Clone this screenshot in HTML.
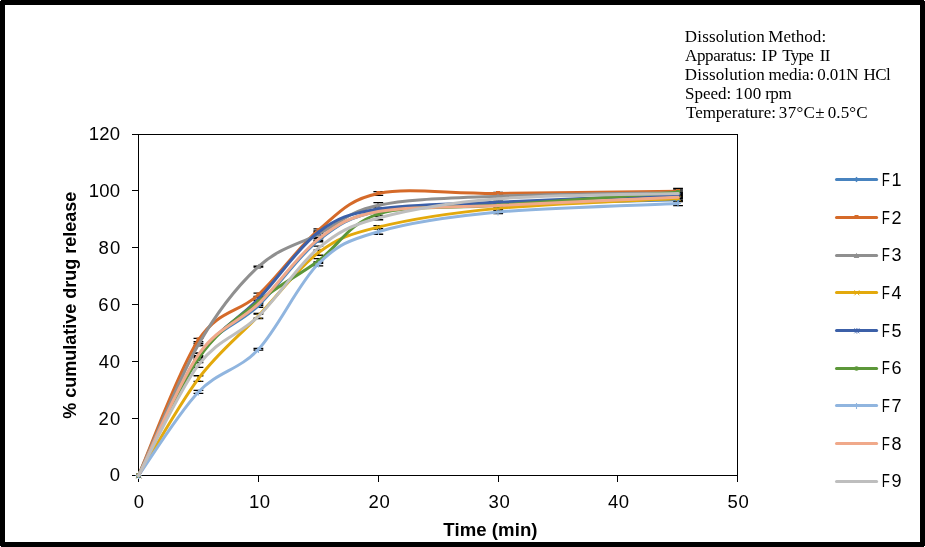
<!DOCTYPE html>
<html lang="en"><head><meta charset="utf-8"><title>Dissolution profile</title>
<style>
html,body{margin:0;padding:0;background:#fff;}
body{width:925px;height:547px;overflow:hidden;}
svg{display:block;}
.ax{font-family:"Liberation Sans",sans-serif;font-size:18.5px;fill:#000;}
.lg{font-family:"Liberation Sans",sans-serif;font-size:18px;fill:#000;}
.tt{font-family:"Liberation Sans",sans-serif;font-weight:bold;font-size:18.6px;fill:#000;}
.nt{font-family:"Liberation Serif",serif;font-size:17px;fill:#000;}
</style></head><body>
<svg width="925" height="547" viewBox="0 0 925 547">
<rect x="0" y="0" width="925" height="547" fill="#000"/>
<rect x="5" y="5" width="915" height="537" fill="#fff"/>
<path d="M0 0h1v1h-1zM924 0h1v1h-1zM0 546h1v1h-1zM924 546h1v1h-1z" fill="#fff" shape-rendering="crispEdges"/>
<g stroke="#000" stroke-width="1" fill="none" shape-rendering="crispEdges">
<rect x="138.5" y="134.5" width="599" height="341"/>
<line x1="132" x2="138.5" y1="475.5" y2="475.5"/>
<line x1="132" x2="138.5" y1="418.5" y2="418.5"/>
<line x1="132" x2="138.5" y1="361.5" y2="361.5"/>
<line x1="132" x2="138.5" y1="304.5" y2="304.5"/>
<line x1="132" x2="138.5" y1="247.5" y2="247.5"/>
<line x1="132" x2="138.5" y1="190.5" y2="190.5"/>
<line x1="132" x2="138.5" y1="134.5" y2="134.5"/>
<line x1="138.5" x2="138.5" y1="475.5" y2="482"/>
<line x1="258.5" x2="258.5" y1="475.5" y2="482"/>
<line x1="378.5" x2="378.5" y1="475.5" y2="482"/>
<line x1="498.5" x2="498.5" y1="475.5" y2="482"/>
<line x1="617.5" x2="617.5" y1="475.5" y2="482"/>
<line x1="737.5" x2="737.5" y1="475.5" y2="482"/>
</g>
<g class="ax">
<text x="109.63" y="480.85" style="letter-spacing:0px">0</text>
<text x="98.41" y="424.85" style="letter-spacing:1.21px">20</text>
<text x="98.7" y="367.85" style="letter-spacing:0.72px">40</text>
<text x="98.3" y="310.85" style="letter-spacing:1.32px">60</text>
<text x="98.5" y="253.85" style="letter-spacing:1.12px">80</text>
<text x="88.78" y="196.85" style="letter-spacing:0.18px">100</text>
<text x="88.78" y="139.85" style="letter-spacing:0.18px">120</text>
<text x="133.63" y="507.85" style="letter-spacing:0px">0</text>
<text x="248.9" y="507.85" style="letter-spacing:0.59px">10</text>
<text x="368.43" y="507.85" style="letter-spacing:0.9px">20</text>
<text x="488.47" y="507.85" style="letter-spacing:0.86px">30</text>
<text x="607.9" y="507.85" style="letter-spacing:0.45px">40</text>
<text x="727.47" y="507.85" style="letter-spacing:0.86px">50</text>
</g>
<path d="M193.55 353.31H203.35M198.45 353.31V357.29M193.55 357.29H203.35M253.5 303.86H263.3M258.4 303.86V307.27M253.5 307.27H263.3M313.45 238.51H323.25M318.35 238.51V241.91M313.45 241.91H323.25M373.4 209.8H383.2M378.3 209.8V212.65M373.4 212.65H383.2M493.3 203.84H503.1M498.2 203.84V205.54M493.3 205.54H503.1M673.15 198.44H682.95M678.05 198.44V201.28M673.15 201.28H682.95M193.55 338.3H203.35M198.45 338.3V341.6M193.55 341.6H203.35M253.5 293.06H263.3M258.4 293.06V296.48M253.5 296.48H263.3M313.45 228.84H323.25M318.35 228.84V231.69M313.45 231.69H323.25M373.4 191.59H383.2M378.3 191.59V195.34M373.4 195.34H383.2M493.3 192.33H503.1M498.2 192.33V194.6M493.3 194.6H503.1M673.15 190.2H682.95M678.05 190.2V192.47M673.15 192.47H682.95M193.55 343.5H203.35M198.45 343.5V345.49M193.55 345.49H203.35M253.5 266.07H263.3M258.4 266.07V267.21M253.5 267.21H263.3M313.45 232.82H323.25M318.35 232.82V235.66M313.45 235.66H323.25M373.4 202.7H383.2M378.3 202.7V207.81M373.4 207.81H383.2M493.3 195.31H503.1M498.2 195.31V197.02M493.3 197.02H503.1M673.15 191.9H682.95M678.05 191.9V193.61M673.15 193.61H682.95M193.55 375.76H203.35M198.45 375.76V381.44M193.55 381.44H203.35M253.5 313.52H263.3M258.4 313.52V318.07M253.5 318.07H263.3M313.45 250.16H323.25M318.35 250.16V255.27M313.45 255.27H323.25M373.4 225.72H383.2M378.3 225.72V228.56M373.4 228.56H383.2M493.3 207.1H503.1M498.2 207.1V209.66M493.3 209.66H503.1M673.15 197.16H682.95M678.05 197.16V200M673.15 200H682.95M193.55 355.58H203.35M198.45 355.58V358.99M193.55 358.99H203.35M253.5 297.61H263.3M258.4 297.61V300.45M253.5 300.45H263.3M313.45 230.83H323.25M318.35 230.83V233.67M313.45 233.67H323.25M373.4 207.67H383.2M378.3 207.67V210.51M373.4 210.51H383.2M493.3 201.28H503.1M498.2 201.28V202.98M493.3 202.98H503.1M673.15 193.89H682.95M678.05 193.89V196.16M673.15 196.16H682.95M193.55 356.72H203.35M198.45 356.72V360.13M193.55 360.13H203.35M253.5 300.17H263.3M258.4 300.17V303.01M253.5 303.01H263.3M313.45 258.68H323.25M318.35 258.68V263.23M313.45 263.23H323.25M373.4 212.65H383.2M378.3 212.65V215.49M373.4 215.49H383.2M493.3 204.41H503.1M498.2 204.41V206.11M493.3 206.11H503.1M673.15 188.49H682.95M678.05 188.49V195.88M673.15 195.88H682.95M193.55 390.45H203.35M198.45 390.45V393.46M193.55 393.46H203.35M253.5 348.48H263.3M258.4 348.48V350.18M253.5 350.18H263.3M313.45 261.81H323.25M318.35 261.81V265.78M313.45 265.78H323.25M373.4 229.13H383.2M378.3 229.13V234.24M373.4 234.24H383.2M493.3 210.51H503.1M498.2 210.51V213.64M493.3 213.64H503.1M673.15 201.51H682.95M678.05 201.51V205.6M673.15 205.6H682.95M193.55 353.02H203.35M198.45 353.02V356.43M193.55 356.43H203.35M253.5 302.44H263.3M258.4 302.44V305.28M253.5 305.28H263.3M313.45 237.65H323.25M318.35 237.65V240.49M313.45 240.49H323.25M373.4 210.09H383.2M378.3 210.09V212.93M373.4 212.93H383.2M493.3 204.69H503.1M498.2 204.69V206.39M493.3 206.39H503.1M673.15 196.16H682.95M678.05 196.16V198.44M673.15 198.44H682.95M193.55 362.52H203.35M198.45 362.52V367.4M193.55 367.4H203.35M253.5 314.09H263.3M258.4 314.09V318.64M253.5 318.64H263.3M313.45 246.18H323.25M318.35 246.18V250.16M313.45 250.16H323.25M373.4 216.34H383.2M378.3 216.34V219.75M373.4 219.75H383.2M493.3 197.87H503.1M498.2 197.87V199.57M493.3 199.57H503.1M673.15 192.47H682.95M678.05 192.47V194.74M673.15 194.74H682.95" fill="none" stroke="#000" stroke-width="1.3"/>
<path d="M138.5 475.5C148.49 455.47 178.47 383.62 198.45 355.3C218.43 326.98 238.42 324.75 258.4 305.57C278.38 286.39 298.37 255.93 318.35 240.21C338.33 224.49 348.33 217.15 378.3 211.23C408.27 205.3 448.24 206.58 498.2 204.69C548.16 202.79 648.07 200.66 678.05 199.86" fill="none" stroke="#4883bf" stroke-width="3" stroke-linecap="round" stroke-linejoin="round"/>
<path d="M138.5 472.7l2.6 2.8l-2.6 2.8l-2.6 -2.8z" fill="#4883bf"/><path d="M198.5 352.7l2.6 2.8l-2.6 2.8l-2.6 -2.8z" fill="#4883bf"/><path d="M258.5 302.7l2.6 2.8l-2.6 2.8l-2.6 -2.8z" fill="#4883bf"/><path d="M318.5 237.2l2.6 2.8l-2.6 2.8l-2.6 -2.8z" fill="#4883bf"/><path d="M378.5 208.2l2.6 2.8l-2.6 2.8l-2.6 -2.8z" fill="#4883bf"/><path d="M498 201.7l2.6 2.8l-2.6 2.8l-2.6 -2.8z" fill="#4883bf"/><path d="M678 197.2l2.6 2.8l-2.6 2.8l-2.6 -2.8z" fill="#4883bf"/>
<path d="M138.5 475.5C148.49 452.91 178.47 370.07 198.45 339.95C218.43 309.83 238.42 313.05 258.4 294.77C278.38 276.49 298.37 247.15 318.35 230.26C338.33 213.38 348.33 199.6 378.3 193.46C408.27 187.33 448.24 193.82 498.2 193.46C548.16 193.11 648.07 191.69 678.05 191.33" fill="none" stroke="#d56a29" stroke-width="3" stroke-linecap="round" stroke-linejoin="round"/>
<rect x="136.5" y="473" width="4" height="4" fill="#d56a29"/><rect x="196.5" y="337.5" width="4" height="4" fill="#d56a29"/><rect x="256.5" y="292.5" width="4" height="4" fill="#d56a29"/><rect x="316.5" y="228" width="4" height="4" fill="#d56a29"/><rect x="376.5" y="191" width="4" height="4" fill="#d56a29"/><rect x="496" y="191" width="4" height="4" fill="#d56a29"/><rect x="676" y="189" width="4" height="4" fill="#d56a29"/>
<path d="M138.5 475.5C148.49 453.67 178.47 379.31 198.45 344.5C218.43 309.69 238.42 285.01 258.4 266.64C278.38 248.26 298.37 244.47 318.35 234.24C338.33 224.01 348.33 211.6 378.3 205.26C408.27 198.91 448.24 198.25 498.2 196.16C548.16 194.08 648.07 193.32 678.05 192.75" fill="none" stroke="#8f8f8f" stroke-width="3" stroke-linecap="round" stroke-linejoin="round"/>
<path d="M138.5 472.7l2.8 5.2h-5.6z" fill="#8f8f8f"/><path d="M198.5 341.7l2.8 5.2h-5.6z" fill="#8f8f8f"/><path d="M258.5 263.7l2.8 5.2h-5.6z" fill="#8f8f8f"/><path d="M318.5 231.2l2.8 5.2h-5.6z" fill="#8f8f8f"/><path d="M378.5 202.7l2.8 5.2h-5.6z" fill="#8f8f8f"/><path d="M498 193.2l2.8 5.2h-5.6z" fill="#8f8f8f"/><path d="M678 190.2l2.8 5.2h-5.6z" fill="#8f8f8f"/>
<path d="M138.5 475.5C148.49 459.35 178.47 405.22 198.45 378.6C218.43 351.98 238.42 336.78 258.4 315.8C278.38 294.82 298.37 267.49 318.35 252.71C338.33 237.94 348.33 234.53 378.3 227.14C408.27 219.75 448.24 213.14 498.2 208.38C548.16 203.62 648.07 200.21 678.05 198.58" fill="none" stroke="#e3a90c" stroke-width="3" stroke-linecap="round" stroke-linejoin="round"/>
<path d="M136.4 473.3l5 5m0 -5l-5 5" stroke="#e3a90c" stroke-width="1" fill="none"/><path d="M196.4 376.3l5 5m0 -5l-5 5" stroke="#e3a90c" stroke-width="1" fill="none"/><path d="M256.4 313.8l5 5m0 -5l-5 5" stroke="#e3a90c" stroke-width="1" fill="none"/><path d="M316.4 250.3l5 5m0 -5l-5 5" stroke="#e3a90c" stroke-width="1" fill="none"/><path d="M376.4 224.8l5 5m0 -5l-5 5" stroke="#e3a90c" stroke-width="1" fill="none"/><path d="M495.9 206.3l5 5m0 -5l-5 5" stroke="#e3a90c" stroke-width="1" fill="none"/><path d="M675.9 196.3l5 5m0 -5l-5 5" stroke="#e3a90c" stroke-width="1" fill="none"/>
<path d="M138.5 475.5C148.49 455.8 178.47 386.7 198.45 357.29C218.43 327.88 238.42 319.87 258.4 299.03C278.38 278.19 298.37 247.24 318.35 232.25C338.33 217.26 348.33 214.11 378.3 209.09C408.27 204.07 448.24 204.48 498.2 202.13C548.16 199.79 648.07 196.21 678.05 195.03" fill="none" stroke="#3c60a8" stroke-width="3" stroke-linecap="round" stroke-linejoin="round"/>
<path d="M136.4 473.3l5 5m0 -5l-5 5M138.9 473v5.6" stroke="#3c60a8" stroke-width="0.85" fill="none"/><path d="M196.4 355.3l5 5m0 -5l-5 5M198.9 355v5.6" stroke="#3c60a8" stroke-width="0.85" fill="none"/><path d="M256.4 296.8l5 5m0 -5l-5 5M258.9 296.5v5.6" stroke="#3c60a8" stroke-width="0.85" fill="none"/><path d="M316.4 230.3l5 5m0 -5l-5 5M318.9 230v5.6" stroke="#3c60a8" stroke-width="0.85" fill="none"/><path d="M376.4 206.8l5 5m0 -5l-5 5M378.9 206.5v5.6" stroke="#3c60a8" stroke-width="0.85" fill="none"/><path d="M495.9 199.8l5 5m0 -5l-5 5M498.4 199.5v5.6" stroke="#3c60a8" stroke-width="0.85" fill="none"/><path d="M675.9 192.8l5 5m0 -5l-5 5M678.4 192.5v5.6" stroke="#3c60a8" stroke-width="0.85" fill="none"/>
<path d="M138.5 475.5C148.49 455.99 178.47 387.41 198.45 358.42C218.43 329.44 238.42 317.83 258.4 301.59C278.38 285.35 298.37 275.54 318.35 260.95C338.33 246.37 348.33 223.35 378.3 214.07C408.27 204.78 448.24 208.9 498.2 205.26C548.16 201.61 648.07 194.36 678.05 192.19" fill="none" stroke="#5c9739" stroke-width="3" stroke-linecap="round" stroke-linejoin="round"/>
<circle cx="138.5" cy="475.5" r="2.3" fill="#5c9739"/><circle cx="198.5" cy="358.5" r="2.3" fill="#5c9739"/><circle cx="258.5" cy="301.5" r="2.3" fill="#5c9739"/><circle cx="318.5" cy="261" r="2.3" fill="#5c9739"/><circle cx="378.5" cy="214" r="2.3" fill="#5c9739"/><circle cx="498" cy="205.5" r="2.3" fill="#5c9739"/><circle cx="678" cy="192" r="2.3" fill="#5c9739"/>
<path d="M138.5 475.5C148.49 461.58 178.47 412.98 198.45 391.95C218.43 370.93 238.42 370.69 258.4 349.33C278.38 327.97 298.37 283.4 318.35 263.8C338.33 244.19 348.33 240.3 378.3 231.69C408.27 223.07 448.24 216.77 498.2 212.08C548.16 207.39 648.07 204.97 678.05 203.55" fill="none" stroke="#90b5df" stroke-width="3" stroke-linecap="round" stroke-linejoin="round"/>
<path d="M138.5 472.9v6.2M135.5 475.5h6" stroke="#90b5df" stroke-width="1.1" fill="none"/><path d="M198.5 389.4v6.2M195.5 392h6" stroke="#90b5df" stroke-width="1.1" fill="none"/><path d="M258.5 346.9v6.2M255.5 349.5h6" stroke="#90b5df" stroke-width="1.1" fill="none"/><path d="M318.5 261.4v6.2M315.5 264h6" stroke="#90b5df" stroke-width="1.1" fill="none"/><path d="M378.5 228.9v6.2M375.5 231.5h6" stroke="#90b5df" stroke-width="1.1" fill="none"/><path d="M498 209.4v6.2M495 212h6" stroke="#90b5df" stroke-width="1.1" fill="none"/><path d="M678 200.9v6.2M675 203.5h6" stroke="#90b5df" stroke-width="1.1" fill="none"/>
<path d="M138.5 475.5C148.49 455.37 178.47 383.34 198.45 354.73C218.43 326.12 238.42 323.14 258.4 303.86C278.38 284.59 298.37 254.47 318.35 239.07C338.33 223.68 348.33 217.1 378.3 211.51C408.27 205.92 448.24 207.91 498.2 205.54C548.16 203.17 648.07 198.67 678.05 197.3" fill="none" stroke="#f0a98a" stroke-width="3" stroke-linecap="round" stroke-linejoin="round"/>
<path d="M138.5 475.5C148.49 457.08 178.47 391.48 198.45 364.96C218.43 338.44 238.42 335.83 258.4 316.37C278.38 296.9 298.37 264.55 318.35 248.17C338.33 231.78 348.33 226.29 378.3 218.05C408.27 209.8 448.24 202.79 498.2 198.72C548.16 194.65 648.07 194.46 678.05 193.61" fill="none" stroke="#bebebe" stroke-width="3" stroke-linecap="round" stroke-linejoin="round"/>
<line x1="836.5" x2="876.6" y1="179.5" y2="179.5" stroke="#4883bf" stroke-width="3" stroke-linecap="round"/>
<path d="M856.5 176.7l2.6 2.8l-2.6 2.8l-2.6 -2.8z" fill="#4883bf"/>
<text class="lg" y="185.85"><tspan x="881.83" textLength="8.12" lengthAdjust="spacingAndGlyphs">F</tspan><tspan x="891.5">1</tspan></text>
<line x1="836.5" x2="876.6" y1="217.5" y2="217.5" stroke="#d56a29" stroke-width="3" stroke-linecap="round"/>
<rect x="854.5" y="215" width="4" height="4" fill="#d56a29"/>
<text class="lg" y="223.85"><tspan x="881.83" textLength="8.12" lengthAdjust="spacingAndGlyphs">F</tspan><tspan x="891.5">2</tspan></text>
<line x1="836.5" x2="876.6" y1="255.5" y2="255.5" stroke="#8f8f8f" stroke-width="3" stroke-linecap="round"/>
<path d="M856.5 252.7l2.8 5.2h-5.6z" fill="#8f8f8f"/>
<text class="lg" y="260.85"><tspan x="881.83" textLength="8.12" lengthAdjust="spacingAndGlyphs">F</tspan><tspan x="891.5">3</tspan></text>
<line x1="836.5" x2="876.6" y1="292.5" y2="292.5" stroke="#e3a90c" stroke-width="3" stroke-linecap="round"/>
<path d="M854.4 290.3l5 5m0 -5l-5 5" stroke="#e3a90c" stroke-width="1" fill="none"/>
<text class="lg" y="298.85"><tspan x="881.83" textLength="8.12" lengthAdjust="spacingAndGlyphs">F</tspan><tspan x="891.5">4</tspan></text>
<line x1="836.5" x2="876.6" y1="330.5" y2="330.5" stroke="#3c60a8" stroke-width="3" stroke-linecap="round"/>
<path d="M854.4 328.3l5 5m0 -5l-5 5M856.9 328v5.6" stroke="#3c60a8" stroke-width="0.85" fill="none"/>
<text class="lg" y="336.85"><tspan x="881.83" textLength="8.12" lengthAdjust="spacingAndGlyphs">F</tspan><tspan x="891.5">5</tspan></text>
<line x1="836.5" x2="876.6" y1="368.5" y2="368.5" stroke="#5c9739" stroke-width="3" stroke-linecap="round"/>
<circle cx="856.5" cy="368.5" r="2.3" fill="#5c9739"/>
<text class="lg" y="373.85"><tspan x="881.83" textLength="8.12" lengthAdjust="spacingAndGlyphs">F</tspan><tspan x="891.5">6</tspan></text>
<line x1="836.5" x2="876.6" y1="405.5" y2="405.5" stroke="#90b5df" stroke-width="3" stroke-linecap="round"/>
<path d="M856.5 402.9v6.2M853.5 405.5h6" stroke="#90b5df" stroke-width="1.1" fill="none"/>
<text class="lg" y="411.85"><tspan x="881.83" textLength="8.12" lengthAdjust="spacingAndGlyphs">F</tspan><tspan x="891.5">7</tspan></text>
<line x1="836.5" x2="876.6" y1="443.5" y2="443.5" stroke="#f0a98a" stroke-width="3" stroke-linecap="round"/>
<text class="lg" y="449.85"><tspan x="881.83" textLength="8.12" lengthAdjust="spacingAndGlyphs">F</tspan><tspan x="891.5">8</tspan></text>
<line x1="836.5" x2="876.6" y1="481.5" y2="481.5" stroke="#bebebe" stroke-width="3" stroke-linecap="round"/>
<text class="lg" y="486.85"><tspan x="881.83" textLength="8.12" lengthAdjust="spacingAndGlyphs">F</tspan><tspan x="891.5">9</tspan></text>
<text class="tt" x="443.36" y="535.5" style="letter-spacing:0.05px">Time (min)</text>
<text class="tt" style="font-size:18px" text-anchor="middle" transform="translate(75.6 305.2) rotate(-90)">% cumulative drug release</text>
<text class="nt" y="41.8"><tspan x="684.87" style="letter-spacing:0.14px">Dissolution </tspan><tspan x="768.22" style="letter-spacing:0.05px">Method:</tspan></text>
<text class="nt" y="60.7"><tspan x="685.06" style="letter-spacing:-0.36px">Apparatus: </tspan><tspan x="761.5" style="letter-spacing:0.5px">IP </tspan><tspan x="782.36" style="letter-spacing:-0.79px">Type </tspan><tspan x="819.67" style="letter-spacing:-0.56px">II</tspan></text>
<text class="nt" y="79.7"><tspan x="684.87" style="letter-spacing:0.14px">Dissolution </tspan><tspan x="768.44" style="letter-spacing:-0.08px">media: </tspan><tspan x="817.36" style="letter-spacing:-0.19px">0.01N </tspan><tspan x="863.57" style="letter-spacing:-0.54px">HCl</tspan></text>
<text class="nt" y="98.8"><tspan x="685.05" style="letter-spacing:-0.04px">Speed: </tspan><tspan x="735.1" style="letter-spacing:0.32px">100 </tspan><tspan x="765.13" style="letter-spacing:-0.44px">rpm</tspan></text>
<text class="nt" y="117.7"><tspan x="685.98" style="letter-spacing:-0.04px">Temperature: </tspan><tspan x="778.84" style="letter-spacing:0.31px">37°C± </tspan><tspan x="827.73" style="letter-spacing:0.09px">0.5°C</tspan></text>
</svg>
</body></html>
